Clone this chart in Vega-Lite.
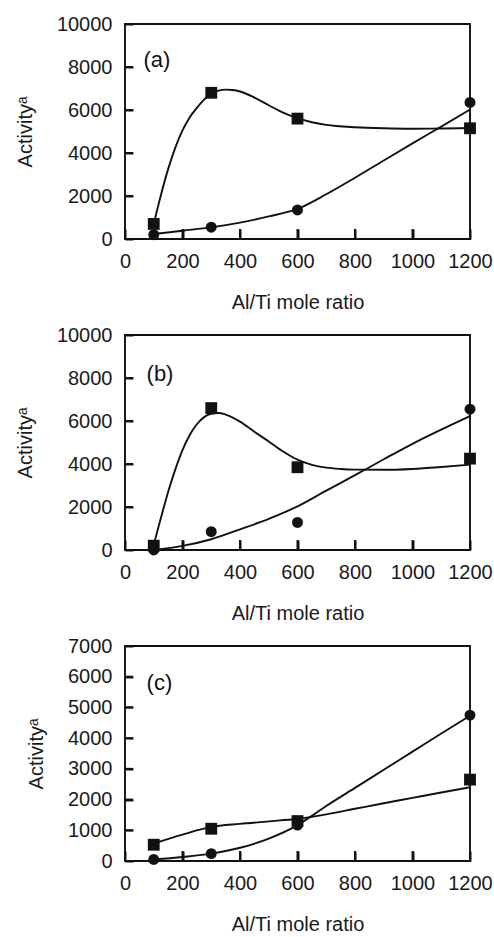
{
  "$schema": "https://vega.github.io/schema/vega-lite/v6.json",
  "padding": {"left": 14, "top": 13, "right": 0, "bottom": 5},
  "background": "white",
  "spacing": 96,
  "bounds": "flush",
  "data": {"values": [
    {"panel": "a", "series": "sq", "kind": "pt", "x": 100, "y": 700},
    {"panel": "a", "series": "sq", "kind": "pt", "x": 300, "y": 6800},
    {"panel": "a", "series": "sq", "kind": "pt", "x": 600, "y": 5600},
    {"panel": "a", "series": "sq", "kind": "pt", "x": 1200, "y": 5150},
    {"panel": "a", "series": "ci", "kind": "pt", "x": 100, "y": 200},
    {"panel": "a", "series": "ci", "kind": "pt", "x": 300, "y": 550},
    {"panel": "a", "series": "ci", "kind": "pt", "x": 600, "y": 1350},
    {"panel": "a", "series": "ci", "kind": "pt", "x": 1200, "y": 6350},
    {"panel": "b", "series": "sq", "kind": "pt", "x": 100, "y": 200},
    {"panel": "b", "series": "sq", "kind": "pt", "x": 300, "y": 6600},
    {"panel": "b", "series": "sq", "kind": "pt", "x": 600, "y": 3850},
    {"panel": "b", "series": "sq", "kind": "pt", "x": 1200, "y": 4250},
    {"panel": "b", "series": "ci", "kind": "pt", "x": 100, "y": 0},
    {"panel": "b", "series": "ci", "kind": "pt", "x": 300, "y": 850},
    {"panel": "b", "series": "ci", "kind": "pt", "x": 600, "y": 1280},
    {"panel": "b", "series": "ci", "kind": "pt", "x": 1200, "y": 6550},
    {"panel": "c", "series": "sq", "kind": "pt", "x": 100, "y": 530},
    {"panel": "c", "series": "sq", "kind": "pt", "x": 300, "y": 1050},
    {"panel": "c", "series": "sq", "kind": "pt", "x": 600, "y": 1300},
    {"panel": "c", "series": "sq", "kind": "pt", "x": 1200, "y": 2650},
    {"panel": "c", "series": "ci", "kind": "pt", "x": 100, "y": 50},
    {"panel": "c", "series": "ci", "kind": "pt", "x": 300, "y": 240},
    {"panel": "c", "series": "ci", "kind": "pt", "x": 600, "y": 1170},
    {"panel": "c", "series": "ci", "kind": "pt", "x": 1200, "y": 4750},

    {"panel": "a", "series": "sq", "kind": "fit", "x": 100, "y": 700},
    {"panel": "a", "series": "sq", "kind": "fit", "x": 125, "y": 2050},
    {"panel": "a", "series": "sq", "kind": "fit", "x": 150, "y": 3250},
    {"panel": "a", "series": "sq", "kind": "fit", "x": 175, "y": 4250},
    {"panel": "a", "series": "sq", "kind": "fit", "x": 200, "y": 5050},
    {"panel": "a", "series": "sq", "kind": "fit", "x": 225, "y": 5650},
    {"panel": "a", "series": "sq", "kind": "fit", "x": 250, "y": 6100},
    {"panel": "a", "series": "sq", "kind": "fit", "x": 275, "y": 6480},
    {"panel": "a", "series": "sq", "kind": "fit", "x": 300, "y": 6750},
    {"panel": "a", "series": "sq", "kind": "fit", "x": 325, "y": 6900},
    {"panel": "a", "series": "sq", "kind": "fit", "x": 350, "y": 6950},
    {"panel": "a", "series": "sq", "kind": "fit", "x": 375, "y": 6930},
    {"panel": "a", "series": "sq", "kind": "fit", "x": 400, "y": 6860},
    {"panel": "a", "series": "sq", "kind": "fit", "x": 450, "y": 6580},
    {"panel": "a", "series": "sq", "kind": "fit", "x": 500, "y": 6220},
    {"panel": "a", "series": "sq", "kind": "fit", "x": 550, "y": 5880},
    {"panel": "a", "series": "sq", "kind": "fit", "x": 600, "y": 5620},
    {"panel": "a", "series": "sq", "kind": "fit", "x": 650, "y": 5430},
    {"panel": "a", "series": "sq", "kind": "fit", "x": 700, "y": 5310},
    {"panel": "a", "series": "sq", "kind": "fit", "x": 800, "y": 5200},
    {"panel": "a", "series": "sq", "kind": "fit", "x": 900, "y": 5150},
    {"panel": "a", "series": "sq", "kind": "fit", "x": 1000, "y": 5130},
    {"panel": "a", "series": "sq", "kind": "fit", "x": 1100, "y": 5140},
    {"panel": "a", "series": "sq", "kind": "fit", "x": 1200, "y": 5160},

    {"panel": "a", "series": "ci", "kind": "fit", "x": 100, "y": 230},
    {"panel": "a", "series": "ci", "kind": "fit", "x": 200, "y": 385},
    {"panel": "a", "series": "ci", "kind": "fit", "x": 300, "y": 540},
    {"panel": "a", "series": "ci", "kind": "fit", "x": 400, "y": 760},
    {"panel": "a", "series": "ci", "kind": "fit", "x": 500, "y": 1050},
    {"panel": "a", "series": "ci", "kind": "fit", "x": 600, "y": 1400},
    {"panel": "a", "series": "ci", "kind": "fit", "x": 700, "y": 2080},
    {"panel": "a", "series": "ci", "kind": "fit", "x": 800, "y": 2850},
    {"panel": "a", "series": "ci", "kind": "fit", "x": 900, "y": 3650},
    {"panel": "a", "series": "ci", "kind": "fit", "x": 1000, "y": 4450},
    {"panel": "a", "series": "ci", "kind": "fit", "x": 1100, "y": 5230},
    {"panel": "a", "series": "ci", "kind": "fit", "x": 1200, "y": 6020},

    {"panel": "b", "series": "sq", "kind": "fit", "x": 100, "y": 250},
    {"panel": "b", "series": "sq", "kind": "fit", "x": 125, "y": 1500},
    {"panel": "b", "series": "sq", "kind": "fit", "x": 150, "y": 2700},
    {"panel": "b", "series": "sq", "kind": "fit", "x": 175, "y": 3750},
    {"panel": "b", "series": "sq", "kind": "fit", "x": 200, "y": 4650},
    {"panel": "b", "series": "sq", "kind": "fit", "x": 225, "y": 5350},
    {"panel": "b", "series": "sq", "kind": "fit", "x": 250, "y": 5850},
    {"panel": "b", "series": "sq", "kind": "fit", "x": 275, "y": 6180},
    {"panel": "b", "series": "sq", "kind": "fit", "x": 300, "y": 6340},
    {"panel": "b", "series": "sq", "kind": "fit", "x": 325, "y": 6370},
    {"panel": "b", "series": "sq", "kind": "fit", "x": 350, "y": 6300},
    {"panel": "b", "series": "sq", "kind": "fit", "x": 400, "y": 5970},
    {"panel": "b", "series": "sq", "kind": "fit", "x": 450, "y": 5500},
    {"panel": "b", "series": "sq", "kind": "fit", "x": 500, "y": 5050},
    {"panel": "b", "series": "sq", "kind": "fit", "x": 550, "y": 4580},
    {"panel": "b", "series": "sq", "kind": "fit", "x": 600, "y": 4200},
    {"panel": "b", "series": "sq", "kind": "fit", "x": 650, "y": 3960},
    {"panel": "b", "series": "sq", "kind": "fit", "x": 700, "y": 3830},
    {"panel": "b", "series": "sq", "kind": "fit", "x": 750, "y": 3770},
    {"panel": "b", "series": "sq", "kind": "fit", "x": 800, "y": 3740},
    {"panel": "b", "series": "sq", "kind": "fit", "x": 900, "y": 3730},
    {"panel": "b", "series": "sq", "kind": "fit", "x": 1000, "y": 3770},
    {"panel": "b", "series": "sq", "kind": "fit", "x": 1100, "y": 3860},
    {"panel": "b", "series": "sq", "kind": "fit", "x": 1200, "y": 3970},

    {"panel": "b", "series": "ci", "kind": "fit", "x": 100, "y": 0},
    {"panel": "b", "series": "ci", "kind": "fit", "x": 200, "y": 190},
    {"panel": "b", "series": "ci", "kind": "fit", "x": 300, "y": 500},
    {"panel": "b", "series": "ci", "kind": "fit", "x": 400, "y": 960},
    {"panel": "b", "series": "ci", "kind": "fit", "x": 500, "y": 1450},
    {"panel": "b", "series": "ci", "kind": "fit", "x": 600, "y": 2030},
    {"panel": "b", "series": "ci", "kind": "fit", "x": 700, "y": 2760},
    {"panel": "b", "series": "ci", "kind": "fit", "x": 800, "y": 3480},
    {"panel": "b", "series": "ci", "kind": "fit", "x": 900, "y": 4220},
    {"panel": "b", "series": "ci", "kind": "fit", "x": 1000, "y": 4940},
    {"panel": "b", "series": "ci", "kind": "fit", "x": 1100, "y": 5600},
    {"panel": "b", "series": "ci", "kind": "fit", "x": 1200, "y": 6230},

    {"panel": "c", "series": "sq", "kind": "fit", "x": 100, "y": 570},
    {"panel": "c", "series": "sq", "kind": "fit", "x": 200, "y": 860},
    {"panel": "c", "series": "sq", "kind": "fit", "x": 300, "y": 1110},
    {"panel": "c", "series": "sq", "kind": "fit", "x": 400, "y": 1210},
    {"panel": "c", "series": "sq", "kind": "fit", "x": 500, "y": 1290},
    {"panel": "c", "series": "sq", "kind": "fit", "x": 600, "y": 1375},
    {"panel": "c", "series": "sq", "kind": "fit", "x": 700, "y": 1520},
    {"panel": "c", "series": "sq", "kind": "fit", "x": 800, "y": 1700},
    {"panel": "c", "series": "sq", "kind": "fit", "x": 900, "y": 1880},
    {"panel": "c", "series": "sq", "kind": "fit", "x": 1000, "y": 2055},
    {"panel": "c", "series": "sq", "kind": "fit", "x": 1100, "y": 2230},
    {"panel": "c", "series": "sq", "kind": "fit", "x": 1200, "y": 2400},

    {"panel": "c", "series": "ci", "kind": "fit", "x": 100, "y": 45},
    {"panel": "c", "series": "ci", "kind": "fit", "x": 200, "y": 130},
    {"panel": "c", "series": "ci", "kind": "fit", "x": 300, "y": 240},
    {"panel": "c", "series": "ci", "kind": "fit", "x": 400, "y": 430},
    {"panel": "c", "series": "ci", "kind": "fit", "x": 500, "y": 730},
    {"panel": "c", "series": "ci", "kind": "fit", "x": 600, "y": 1170},
    {"panel": "c", "series": "ci", "kind": "fit", "x": 650, "y": 1470},
    {"panel": "c", "series": "ci", "kind": "fit", "x": 700, "y": 1790},
    {"panel": "c", "series": "ci", "kind": "fit", "x": 800, "y": 2380},
    {"panel": "c", "series": "ci", "kind": "fit", "x": 900, "y": 2970},
    {"panel": "c", "series": "ci", "kind": "fit", "x": 1000, "y": 3560},
    {"panel": "c", "series": "ci", "kind": "fit", "x": 1100, "y": 4150},
    {"panel": "c", "series": "ci", "kind": "fit", "x": 1200, "y": 4730},

    {"panel": "a", "kind": "xt", "x": 200, "y": 0}, {"panel": "a", "kind": "xt", "x": 400, "y": 0}, {"panel": "a", "kind": "xt", "x": 600, "y": 0},
    {"panel": "a", "kind": "xt", "x": 800, "y": 0}, {"panel": "a", "kind": "xt", "x": 1000, "y": 0},
    {"panel": "b", "kind": "xt", "x": 200, "y": 0}, {"panel": "b", "kind": "xt", "x": 400, "y": 0}, {"panel": "b", "kind": "xt", "x": 600, "y": 0},
    {"panel": "b", "kind": "xt", "x": 800, "y": 0}, {"panel": "b", "kind": "xt", "x": 1000, "y": 0},
    {"panel": "c", "kind": "xt", "x": 200, "y": 0}, {"panel": "c", "kind": "xt", "x": 400, "y": 0}, {"panel": "c", "kind": "xt", "x": 600, "y": 0},
    {"panel": "c", "kind": "xt", "x": 800, "y": 0}, {"panel": "c", "kind": "xt", "x": 1000, "y": 0},
    {"panel": "a", "kind": "yt", "x": 0, "y": 2000}, {"panel": "a", "kind": "yt", "x": 0, "y": 4000}, {"panel": "a", "kind": "yt", "x": 0, "y": 6000},
    {"panel": "a", "kind": "yt", "x": 0, "y": 8000},
    {"panel": "b", "kind": "yt", "x": 0, "y": 2000}, {"panel": "b", "kind": "yt", "x": 0, "y": 4000}, {"panel": "b", "kind": "yt", "x": 0, "y": 6000},
    {"panel": "b", "kind": "yt", "x": 0, "y": 8000},
    {"panel": "c", "kind": "yt", "x": 0, "y": 1000}, {"panel": "c", "kind": "yt", "x": 0, "y": 2000}, {"panel": "c", "kind": "yt", "x": 0, "y": 3000},
    {"panel": "c", "kind": "yt", "x": 0, "y": 4000}, {"panel": "c", "kind": "yt", "x": 0, "y": 5000}, {"panel": "c", "kind": "yt", "x": 0, "y": 6000}
  ]},
  "vconcat": [
    {
      "width": 345, "height": 215,
      "transform": [{"filter": "datum.panel === 'a'"}],
      "encoding": {
        "x": {"field": "x", "type": "quantitative", "scale": {"domain": [0, 1200], "nice": false},
              "axis": {"values": [0, 200, 400, 600, 800, 1000, 1200], "title": "Al/Ti mole ratio", "format": "d"}},
        "y": {"field": "y", "type": "quantitative", "scale": {"domain": [0, 10000], "nice": false},
              "axis": {"values": [0, 2000, 4000, 6000, 8000, 10000], "title": "Activityᵃ", "format": "d"}}
      },
      "layer": [
        {"transform": [{"filter": "datum.kind === 'xt'"}], "mark": {"type": "rule", "color": "#111", "strokeWidth": 2},
         "encoding": {"y2": {"datum": 465}}},
        {"transform": [{"filter": "datum.kind === 'yt'"}], "mark": {"type": "rule", "color": "#111", "strokeWidth": 2},
         "encoding": {"x2": {"datum": 28}}},
        {"transform": [{"filter": "datum.kind === 'fit'"}], "mark": {"type": "line", "interpolate": "monotone", "color": "#111", "strokeWidth": 1.9},
         "encoding": {"detail": {"field": "series"}}},
        {"transform": [{"filter": "datum.kind === 'pt'"}], "mark": {"type": "point", "filled": true, "color": "#111", "opacity": 1},
         "encoding": {"shape": {"field": "series", "scale": {"domain": ["sq", "ci"], "range": ["square", "circle"]}, "legend": null},
                      "size": {"field": "series", "scale": {"domain": ["sq", "ci"], "range": [140, 120]}, "legend": null}}},
        {"transform": [{"filter": "datum.kind === 'pt' && datum.series === 'sq' && datum.x === 100"}],
         "mark": {"type": "text", "text": "(a)", "align": "left", "baseline": "alphabetic", "font": "Liberation Sans", "fontSize": 22, "fontWeight": "normal", "color": "#111"},
         "encoding": {"x": {"datum": 64}, "y": {"datum": 8000}}}
      ]
    },
    {
      "width": 345, "height": 215,
      "transform": [{"filter": "datum.panel === 'b'"}],
      "encoding": {
        "x": {"field": "x", "type": "quantitative", "scale": {"domain": [0, 1200], "nice": false},
              "axis": {"values": [0, 200, 400, 600, 800, 1000, 1200], "title": "Al/Ti mole ratio", "format": "d"}},
        "y": {"field": "y", "type": "quantitative", "scale": {"domain": [0, 10000], "nice": false},
              "axis": {"values": [0, 2000, 4000, 6000, 8000, 10000], "title": "Activityᵃ", "format": "d"}}
      },
      "layer": [
        {"transform": [{"filter": "datum.kind === 'xt'"}], "mark": {"type": "rule", "color": "#111", "strokeWidth": 2},
         "encoding": {"y2": {"datum": 465}}},
        {"transform": [{"filter": "datum.kind === 'yt'"}], "mark": {"type": "rule", "color": "#111", "strokeWidth": 2},
         "encoding": {"x2": {"datum": 28}}},
        {"transform": [{"filter": "datum.kind === 'fit'"}], "mark": {"type": "line", "interpolate": "monotone", "color": "#111", "strokeWidth": 1.9},
         "encoding": {"detail": {"field": "series"}}},
        {"transform": [{"filter": "datum.kind === 'pt'"}], "mark": {"type": "point", "filled": true, "color": "#111", "opacity": 1},
         "encoding": {"shape": {"field": "series", "scale": {"domain": ["sq", "ci"], "range": ["square", "circle"]}, "legend": null},
                      "size": {"field": "series", "scale": {"domain": ["sq", "ci"], "range": [140, 120]}, "legend": null}}},
        {"transform": [{"filter": "datum.kind === 'pt' && datum.series === 'sq' && datum.x === 100"}],
         "mark": {"type": "text", "text": "(b)", "align": "left", "baseline": "alphabetic", "font": "Liberation Sans", "fontSize": 22, "fontWeight": "normal", "color": "#111"},
         "encoding": {"x": {"datum": 75}, "y": {"datum": 7850}}}
      ]
    },
    {
      "width": 345, "height": 215,
      "transform": [{"filter": "datum.panel === 'c'"}],
      "encoding": {
        "x": {"field": "x", "type": "quantitative", "scale": {"domain": [0, 1200], "nice": false},
              "axis": {"values": [0, 200, 400, 600, 800, 1000, 1200], "title": "Al/Ti mole ratio", "format": "d"}},
        "y": {"field": "y", "type": "quantitative", "scale": {"domain": [0, 7000], "nice": false},
              "axis": {"values": [0, 1000, 2000, 3000, 4000, 5000, 6000, 7000], "title": "Activityᵃ", "format": "d"}}
      },
      "layer": [
        {"transform": [{"filter": "datum.kind === 'xt'"}], "mark": {"type": "rule", "color": "#111", "strokeWidth": 2},
         "encoding": {"y2": {"datum": 326}}},
        {"transform": [{"filter": "datum.kind === 'yt'"}], "mark": {"type": "rule", "color": "#111", "strokeWidth": 2},
         "encoding": {"x2": {"datum": 28}}},
        {"transform": [{"filter": "datum.kind === 'fit'"}], "mark": {"type": "line", "interpolate": "monotone", "color": "#111", "strokeWidth": 1.9},
         "encoding": {"detail": {"field": "series"}}},
        {"transform": [{"filter": "datum.kind === 'pt'"}], "mark": {"type": "point", "filled": true, "color": "#111", "opacity": 1},
         "encoding": {"shape": {"field": "series", "scale": {"domain": ["sq", "ci"], "range": ["square", "circle"]}, "legend": null},
                      "size": {"field": "series", "scale": {"domain": ["sq", "ci"], "range": [140, 120]}, "legend": null}}},
        {"transform": [{"filter": "datum.kind === 'pt' && datum.series === 'sq' && datum.x === 100"}],
         "mark": {"type": "text", "text": "(c)", "align": "left", "baseline": "alphabetic", "font": "Liberation Sans", "fontSize": 22, "fontWeight": "normal", "color": "#111"},
         "encoding": {"x": {"datum": 75}, "y": {"datum": 5580}}}
      ]
    }
  ],
  "config": {
    "view": {"stroke": "#111", "strokeWidth": 1.9},
    "axis": {
      "grid": false, "ticks": true, "domain": false, "zindex": 1,
      "tickColor": "#111", "tickWidth": 2,
      "labelFont": "Liberation Sans", "labelFontSize": 20, "labelColor": "#1a1a1a",
      "labelOverlap": false, "labelFlush": false,
      "titleFont": "Liberation Sans", "titleFontSize": 20, "titleFontWeight": "normal", "titleColor": "#1a1a1a"
    },
    "axisX": {"offset": -10, "tickSize": 10, "labelPadding": 12, "titlePadding": 21},
    "axisY": {"offset": -8, "tickSize": 8, "labelPadding": 13, "titlePadding": 21}
  }
}
